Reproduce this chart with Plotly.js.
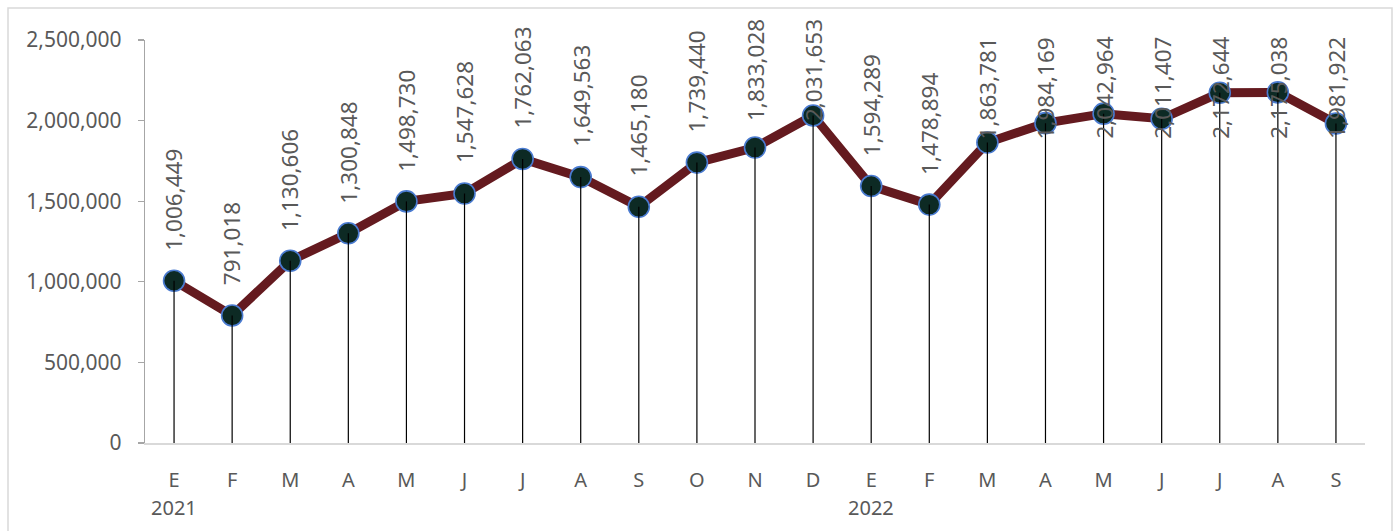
<!DOCTYPE html>
<html>
<head>
<meta charset="utf-8">
<script src="https://cdn.plot.ly/plotly-3.0.1.min.js"></script>
<style>html,body{margin:0;padding:0;background:#fff;}#chart{width:1395px;height:531px;}</style>
</head>
<body>
<div id="chart"></div>
<script>
const months = ["E","F","M","A","M","J","J","A","S","O","N","D","E","F","M","A","M","J","J","A","S"];
const years = ["2021","2022"];
const yearStartIndex = [0, 12];
const values = [1006449, 791018, 1130606, 1300848, 1498730, 1547628, 1762063, 1649563, 1465180, 1739440, 1833028, 2031653, 1594289, 1478894, 1863781, 1984169, 2042964, 2011407, 2172644, 2175038, 1981922];
const yTicks = [0, 500000, 1000000, 1500000, 2000000, 2500000];

const W = 1395, H = 531;
const mL = 145, mR = 30, mT = 40, mB = 88;
const plotH = H - mT - mB, plotW = W - mL - mR;
const yMax = 2500000;
const k = plotH / yMax; // px per unit
const xs = values.map((v, i) => i);

function fmt(v){ return v.toLocaleString('en-US'); }
function pixToPaper(p){ return (mT + plotH - p) / plotH; }

// drop lines
const dx = [], dy = [];
values.forEach((v, i) => { dx.push(i, i, null); dy.push(0, v, null); });

const traces = [
  {x: xs, y: values, type: 'scatter', mode: 'lines+markers',
   line: {color: '#641a1f', width: 9},
   marker: {size: 21, color: '#0d2a24', line: {color: '#4a7bd0', width: 1.6}},
   hoverinfo: 'skip', cliponaxis: false},
  {x: dx, y: dy, type: 'scatter', mode: 'lines', line: {color: '#000', width: 1.2},
   hoverinfo: 'skip', cliponaxis: false}
];

const gap = 28, labelLen = 103;
const labelFont = {family: 'Noto Sans', size: 22.5, color: '#595959'};
const annotations = values.map((v, i) => {
  const topLimit = i >= 14 ? 35 : 17;
  const pointPix = mT + plotH - v * k;
  const naturalTop = pointPix - gap - labelLen;
  if (naturalTop >= topLimit) {
    return {x: i, y: v, xref: 'x', yref: 'y', text: fmt(v), showarrow: false,
      textangle: -90, yanchor: 'bottom', xanchor: 'center', yshift: gap, font: labelFont};
  } else {
    return {x: i, y: pixToPaper(topLimit), xref: 'x', yref: 'paper', text: fmt(v), showarrow: false,
      textangle: -90, yanchor: 'top', xanchor: 'center', font: labelFont};
  }
});
years.forEach((yr, j) => {
  annotations.push({x: yearStartIndex[j], y: pixToPaper(507), xref: 'x', yref: 'paper',
    text: yr, showarrow: false, yanchor: 'middle', xanchor: 'center',
    font: {family: 'Noto Sans', size: 20, color: '#595959'}});
});

const layout = {
  width: W, height: H,
  margin: {l: mL, r: mR, t: mT, b: mB, pad: 0},
  paper_bgcolor: '#fff', plot_bgcolor: '#fff',
  showlegend: false,
  font: {family: 'Noto Sans', color: '#595959'},
  xaxis: {range: [-0.5, values.length - 0.5], tickvals: xs, ticktext: months,
    showgrid: false, zeroline: false, showline: true, linecolor: '#d9d9d9', linewidth: 1.5,
    ticks: '', tickfont: {family: 'Noto Sans', size: 20, color: '#595959'}, ticklabelstandoff: 18, fixedrange: true},
  yaxis: {range: [0, yMax], tickvals: yTicks, ticktext: yTicks.map(fmt),
    showgrid: false, zeroline: false, showline: true, linecolor: '#a6a6a6', linewidth: 1.2,
    ticks: 'outside', ticklen: 6, tickcolor: '#a6a6a6', tickwidth: 1.2,
    tickfont: {family: 'Noto Sans', size: 21, color: '#595959'}, ticklabelstandoff: 12, fixedrange: true},
  annotations: annotations,
  shapes: [{type: 'rect', xref: 'paper', yref: 'paper',
    x0: (8 - mL) / plotW, x1: (1392 - mL) / plotW,
    y0: pixToPaper(545), y1: pixToPaper(8),
    line: {color: '#d9d9d9', width: 1.5}, fillcolor: 'rgba(0,0,0,0)', layer: 'below'}]
};

Plotly.newPlot('chart', traces, layout, {displayModeBar: false, staticPlot: true});
</script>
</body>
</html>
